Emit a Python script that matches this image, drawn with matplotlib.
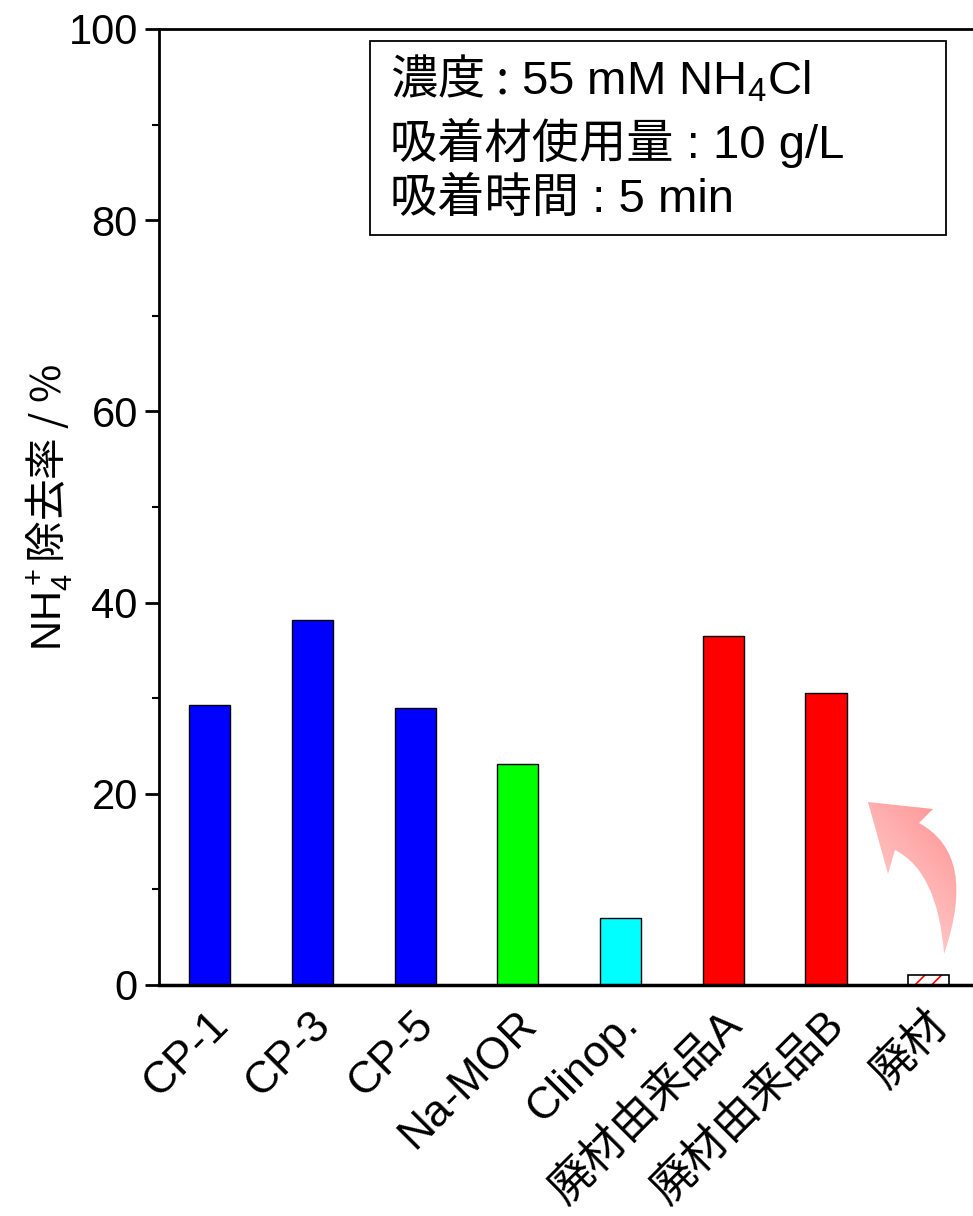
import numpy as np
import matplotlib
matplotlib.use("Agg")
import matplotlib.pyplot as plt
import matplotlib.transforms as mtransforms
from matplotlib.path import Path
from matplotlib.patches import PathPatch, Rectangle
from matplotlib.ticker import MultipleLocator

plt.rcParams['font.family'] = ['Liberation Sans', 'Noto Sans CJK JP']
plt.rcParams['mathtext.fontset'] = 'custom'
plt.rcParams['mathtext.rm'] = 'Liberation Sans'
plt.rcParams['mathtext.it'] = 'Liberation Sans:italic'
plt.rcParams['mathtext.bf'] = 'Liberation Sans:bold'
plt.rcParams['hatch.linewidth'] = 1.2

# ---- data ----
categories = ['CP-1', 'CP-3', 'CP-5', 'Na-MOR', 'Clinop.', '廃材由来品A', '廃材由来品B', '廃材']
removal = [29.3, 38.2, 29.0, 23.1, 7.0, 36.5, 30.5, 1.0]
colors = ['#0000FF', '#0000FF', '#0000FF', '#00FF00', '#00FFFF', '#FF0000', '#FF0000', 'white']
yticks = [0, 20, 40, 60, 80, 100]
info_lines = ['濃度 :$\\mathrm{\\ 55\\ mM\\ NH_4Cl}$', '吸着材使用量 : 10 g/L', '吸着時間 : 5 min']

W, H = 973, 1216
fig = plt.figure(figsize=(W / 100, H / 100), dpi=100)
ax = fig.add_axes([158.6 / W, (H - 985) / H, 821.4 / W, 956 / H])

x = np.arange(len(categories))
bw = 0.4
for i, (v, c) in enumerate(zip(removal, colors)):
    if c == 'white':
        ax.bar(x[i], v, width=bw, color='white', edgecolor='#FF0000', hatch='//', linewidth=0, zorder=2)
        ax.bar(x[i], v, width=bw, fill=False, edgecolor='black', linewidth=1.2, zorder=3)
    else:
        ax.bar(x[i], v, width=bw, color=c, edgecolor='black', linewidth=1.0, zorder=2)

ax.set_xlim(-0.5, len(categories) - 0.5)
ax.set_ylim(0, 100)
ax.set_yticks(yticks)
ax.yaxis.set_minor_locator(MultipleLocator(10))
ax.tick_params(axis='y', which='major', direction='out', length=10, width=2, labelsize=30, pad=5)
ax.tick_params(axis='y', which='minor', direction='out', length=5, width=1.5)
ax.set_xticks(x)
ax.set_xticklabels(categories, rotation=45, ha='right', va='center', rotation_mode='anchor', fontsize=32)
ax.tick_params(axis='x', which='both', length=0, pad=0)
offset = mtransforms.ScaledTranslation(12 / 100, -33 / 100, fig.dpi_scale_trans)
for lab in ax.get_xticklabels():
    lab.set_transform(lab.get_transform() + offset)

for s in ['left', 'top', 'bottom']:
    ax.spines[s].set_linewidth(2)
ax.spines['bottom'].set_linewidth(2.5)
ax.spines['right'].set_visible(False)

ax.set_ylabel('$\\mathrm{NH_4^+}$除去率 / %', fontsize=30, family=['Noto Sans CJK JP'])
ax.yaxis.set_label_coords(-0.102, 0.5)

# info box
box = Rectangle((0.2574, 0.7845), 0.9586 - 0.2574, 0.9874 - 0.7845, transform=ax.transAxes,
                fill=False, edgecolor='black', linewidth=1.3, zorder=5)
ax.add_patch(box)
ys = [0.9467, 0.8807, 0.8211]
for ln, yy in zip(info_lines, ys):
    fam = ['Noto Sans CJK JP'] if '$' in ln else ['Liberation Sans', 'Noto Sans CJK JP']
    ax.text(0.2817, yy, ln, transform=ax.transAxes, fontsize=34, va='center', ha='left', family=fam, zorder=6)

# curved gradient arrow (decoration), defined in pixel space then mapped to axes fraction
def px2ax(px, py):
    return ((px - 158.6) / 821.4, (985 - py) / 956)

verts_px = [(868, 802), (933, 809), (919, 823), (978, 855), (944, 954), (938, 872), (895, 850),
            (888, 874), (868, 802)]
codes = [Path.MOVETO, Path.LINETO, Path.LINETO, Path.CURVE3, Path.CURVE3, Path.CURVE3, Path.CURVE3,
         Path.LINETO, Path.CLOSEPOLY]
verts = [px2ax(*v) for v in verts_px]
arrow = PathPatch(Path(verts, codes), transform=ax.transAxes, facecolor='none', edgecolor='none', zorder=4)
ax.add_patch(arrow)
x0, y0 = px2ax(860, 960)
x1, y1 = px2ax(980, 795)
gx, gy = np.meshgrid(np.linspace(0, 1, 60), np.linspace(0, 1, 60))
t = np.clip(0.55 * gy + 0.45 * gx, 0, 1)
c_low = np.array([1.0, 0.90, 0.90])
c_high = np.array([1.0, 0.52, 0.52])
img = c_low[None, None, :] * (1 - t[..., None]) + c_high[None, None, :] * t[..., None]
im = ax.imshow(img, extent=(x0, x1, y0, y1), transform=ax.transAxes, origin='lower',
               aspect='auto', zorder=4, interpolation='bilinear')
im.set_clip_path(arrow)
ax.set_xlim(-0.5, len(categories) - 0.5)
ax.set_ylim(0, 100)

fig.savefig('out.png', dpi=100)
